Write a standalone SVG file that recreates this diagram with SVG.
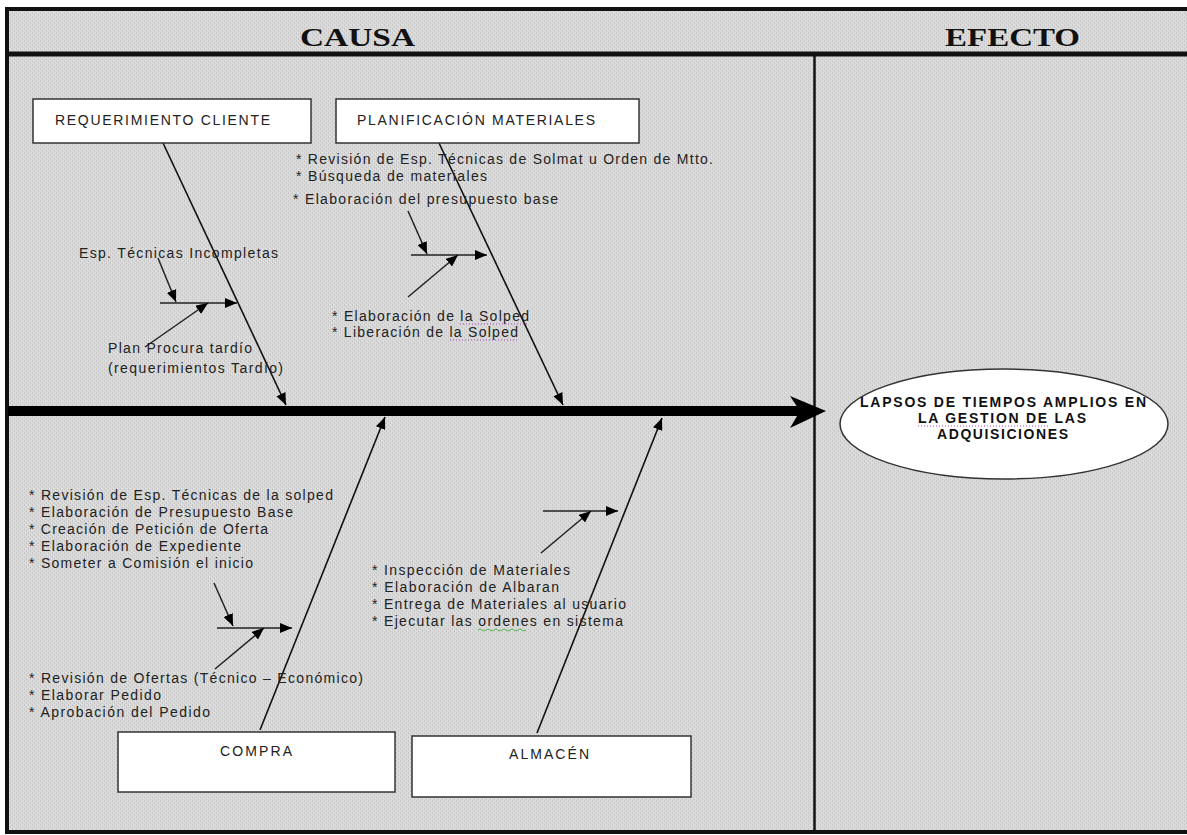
<svg xmlns="http://www.w3.org/2000/svg" width="1187" height="835" viewBox="0 0 1187 835">
<defs>
<pattern id="bg" width="4" height="4" patternUnits="userSpaceOnUse">
<rect width="4" height="4" fill="#d9d9d9"/>
<rect x="0" y="0" width="1" height="2" fill="#c6c6c6"/>
<rect x="2" y="2" width="1" height="2" fill="#c6c6c6"/>
<rect x="1" y="0" width="1" height="1" fill="#e6e6e6"/>
<rect x="3" y="2" width="1" height="1" fill="#e6e6e6"/>
</pattern>
<marker id="ah" viewBox="0 0 12 10" refX="12" refY="5" markerWidth="12" markerHeight="10" markerUnits="userSpaceOnUse" orient="auto">
<path d="M0,0 L12,5 L0,10 z" fill="#000"/>
</marker>
</defs>
<style>
.hdr{font-family:"Liberation Serif","Times New Roman",serif;font-weight:bold;font-size:25px;fill:#111}
.box{fill:#fff;stroke:#333;stroke-width:1.5}
.lbl{font-family:"Liberation Sans",Arial,sans-serif;font-size:14px;fill:#222}
.txt{font-family:"Liberation Sans",Arial,sans-serif;font-size:14px;fill:#222}
.eff{font-family:"Liberation Sans",Arial,sans-serif;font-size:14px;font-weight:bold;fill:#111}
.bone{stroke:#111;stroke-width:1.6;fill:none}
.sub{stroke:#222;stroke-width:1.5;fill:none}
</style>
<rect x="7" y="9" width="1190" height="823" fill="url(#bg)" stroke="#111" stroke-width="4"/>
<line x1="7" y1="54" x2="1187" y2="54" stroke="#111" stroke-width="5"/>
<line x1="814.5" y1="54" x2="814.5" y2="831" stroke="#111" stroke-width="2.5"/>
<text class="hdr" x="300" y="46" textLength="115" lengthAdjust="spacingAndGlyphs">CAUSA</text>
<text class="hdr" x="945" y="46" textLength="135" lengthAdjust="spacingAndGlyphs">EFECTO</text>

<g id="connectors">
<line x1="8" y1="411" x2="800" y2="411" stroke="#000" stroke-width="10"/>
<polygon points="790,396 826,411 790,428 800,411" fill="#000"/>
<line class="bone" x1="163" y1="143" x2="286" y2="405" marker-end="url(#ah)"/>
<line class="bone" x1="439" y1="143" x2="563" y2="405" marker-end="url(#ah)"/>
<line class="bone" x1="260" y1="730" x2="385" y2="417" marker-end="url(#ah)"/>
<line class="bone" x1="537" y1="733" x2="662" y2="418" marker-end="url(#ah)"/>
<line class="sub" x1="160" y1="303" x2="237" y2="303" marker-end="url(#ah)"/>
<line class="sub" x1="158" y1="258" x2="176" y2="302" marker-end="url(#ah)"/>
<line class="sub" x1="145" y1="347" x2="208" y2="303" marker-end="url(#ah)"/>
<line class="sub" x1="411" y1="255" x2="487" y2="255" marker-end="url(#ah)"/>
<line class="sub" x1="408" y1="211" x2="427" y2="254" marker-end="url(#ah)"/>
<line class="sub" x1="408" y1="297" x2="458" y2="255" marker-end="url(#ah)"/>
<line class="sub" x1="217" y1="628" x2="292" y2="628" marker-end="url(#ah)"/>
<line class="sub" x1="214" y1="583" x2="233" y2="626" marker-end="url(#ah)"/>
<line class="sub" x1="215" y1="669" x2="264" y2="628" marker-end="url(#ah)"/>
<line class="sub" x1="543" y1="511" x2="618" y2="511" marker-end="url(#ah)"/>
<line class="sub" x1="541" y1="553" x2="591" y2="511" marker-end="url(#ah)"/>
</g>

<g id="req-cliente">
<rect class="box" x="33" y="99" width="278" height="44"/>
<text class="lbl" x="55" y="125" textLength="215" lengthAdjust="spacing">REQUERIMIENTO CLIENTE</text>
</g>
<g id="plan-materiales">
<rect class="box" x="336" y="99" width="303" height="44"/>
<text class="lbl" x="357" y="125" textLength="238" lengthAdjust="spacing">PLANIFICACIÓN MATERIALES</text>
</g>
<g id="compra">
<rect class="box" x="118" y="732" width="277" height="60"/>
<text class="lbl" x="220" y="756" textLength="72" lengthAdjust="spacing">COMPRA</text>
</g>
<g id="almacen">
<rect class="box" x="412" y="736" width="279" height="61"/>
<text class="lbl" x="509" y="759" textLength="80" lengthAdjust="spacing">ALMACÉN</text>
</g>
<g id="efecto">
<ellipse cx="1004" cy="424" rx="164" ry="55" fill="#fff" stroke="#333" stroke-width="1.5"/>
<text class="eff" x="860" y="407" textLength="286" lengthAdjust="spacing">LAPSOS DE TIEMPOS AMPLIOS EN</text>
<text class="eff" x="918" y="423" textLength="168" lengthAdjust="spacing">LA GESTION DE LAS</text>
<text class="eff" x="937" y="439" textLength="131" lengthAdjust="spacing">ADQUISICIONES</text>
<line x1="918" y1="426" x2="1048" y2="426" stroke="#b040d0" stroke-width="1" stroke-dasharray="1,2"/>
</g>

<g id="req-causas">
<text class="txt" x="79" y="258" textLength="199" lengthAdjust="spacing">Esp. Técnicas Incompletas</text>
<text class="txt" x="108" y="353" textLength="144" lengthAdjust="spacing">Plan Procura tardío</text>
<text class="txt" x="108" y="373" textLength="175" lengthAdjust="spacing">(requerimientos Tardío)</text>
</g>
<g id="plan-causas">
<text class="txt" x="296" y="164" textLength="417" lengthAdjust="spacing">* Revisión de Esp. Técnicas de Solmat u Orden de Mtto.</text>
<text class="txt" x="296" y="181" textLength="191" lengthAdjust="spacing">* Búsqueda de materiales</text>
<text class="txt" x="293" y="204" textLength="265" lengthAdjust="spacing">* Elaboración del presupuesto base</text>
<text class="txt" x="332" y="321" textLength="197" lengthAdjust="spacing">* Elaboración de la Solped</text>
<text class="txt" x="332" y="337" textLength="186" lengthAdjust="spacing">* Liberación de la Solped</text>
<line x1="460" y1="324" x2="528" y2="324" stroke="#b040d0" stroke-width="1" stroke-dasharray="1,2"/>
<line x1="450" y1="340" x2="518" y2="340" stroke="#b040d0" stroke-width="1" stroke-dasharray="1,2"/>
</g>
<g id="compra-causas">
<text class="txt" x="29" y="500" textLength="304" lengthAdjust="spacing">* Revisión de Esp. Técnicas de la solped</text>
<text class="txt" x="29" y="517" textLength="264" lengthAdjust="spacing">* Elaboración de Presupuesto Base</text>
<text class="txt" x="29" y="534" textLength="239" lengthAdjust="spacing">* Creación de Petición de Oferta</text>
<text class="txt" x="29" y="551" textLength="212" lengthAdjust="spacing">* Elaboración de Expediente</text>
<text class="txt" x="29" y="568" textLength="224" lengthAdjust="spacing">* Someter a Comisión el inicio</text>
<text class="txt" x="29" y="683" textLength="334" lengthAdjust="spacing">* Revisión de Ofertas (Técnico – Económico)</text>
<text class="txt" x="29" y="700" textLength="132" lengthAdjust="spacing">* Elaborar Pedido</text>
<text class="txt" x="29" y="717" textLength="181" lengthAdjust="spacing">* Aprobación del Pedido</text>
</g>
<g id="almacen-causas">
<text class="txt" x="372" y="575" textLength="198" lengthAdjust="spacing">* Inspección de Materiales</text>
<text class="txt" x="372" y="592" textLength="187" lengthAdjust="spacing">* Elaboración de Albaran</text>
<text class="txt" x="372" y="609" textLength="254" lengthAdjust="spacing">* Entrega de Materiales al usuario</text>
<text class="txt" x="372" y="626" textLength="251" lengthAdjust="spacing">* Ejecutar las ordenes en sistema</text>
<path d="M478,630 q2,-2 4,0 t4,0 t4,0 t4,0 t4,0 t4,0 t4,0 t4,0 t4,0 t4,0 t4,0 t4,0" fill="none" stroke="#3a3" stroke-width="0.8"/>
</g>
</svg>
